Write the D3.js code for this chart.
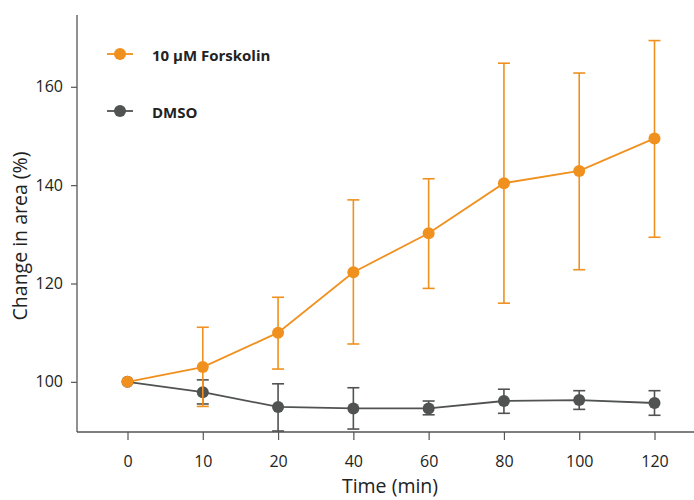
<!DOCTYPE html>
<html><head><meta charset="utf-8">
<script src="https://cdn.jsdelivr.net/npm/d3@7"></script>
<style>body{margin:0;background:#fff}svg{display:block}</style>
</head><body>
<svg id="c" width="694" height="500"></svg>
<script>
const categories = ["0","10","20","40","60","80","100","120"];
const forskolin = [100, 103.0, 110.0, 122.3, 130.2, 140.4, 142.9, 149.5];
const forskolinHi = [100, 111.1, 117.2, 137.0, 141.3, 164.8, 162.8, 169.4];
const forskolinLo = [100, 95.0, 102.6, 107.7, 119.0, 116.0, 122.8, 129.4];
const dmso = [100, 97.9, 94.9, 94.6, 94.6, 96.1, 96.3, 95.7];
const dmsoHi = [100, 100.4, 99.6, 98.8, 96.1, 98.5, 98.2, 98.2];
const dmsoLo = [100, 95.5, 90.0, 90.4, 93.3, 93.6, 94.4, 93.2];
const yTicks = [100, 120, 140, 160];
const seriesNames = ["10 µM Forskolin", "DMSO"];
const colors = ["#F0901E", "#505352"];

const svg = d3.select("#c");
const font = "'Open Sans', 'Noto Sans', sans-serif";
const axisColor = "#555";

const x = d3.scalePoint().domain(categories).range([127.5, 654.5]);
const y = d3.scaleLinear().domain([89.8, 174.6]).range([432, 15]);

// axes
const yAxis = svg.append("g").attr("transform", "translate(77,0)")
  .call(d3.axisLeft(y).tickValues(yTicks).tickSize(6).tickPadding(8).tickSizeOuter(0));
const xAxis = svg.append("g").attr("transform", "translate(0,432)")
  .call(d3.axisBottom(x).tickSize(8).tickPadding(16).tickSizeOuter(0));
[yAxis, xAxis].forEach(g => {
  g.select(".domain").remove();
  g.selectAll("line").attr("stroke", axisColor).attr("stroke-width", 1.2);
  g.selectAll("text").attr("fill", "#222").style("font-family", font).style("font-size", "16px");
});
svg.append("line").attr("x1", 77).attr("x2", 77).attr("y1", 15).attr("y2", 432)
  .attr("stroke", axisColor).attr("stroke-width", 1.3);
svg.append("line").attr("x1", 77).attr("x2", 694).attr("y1", 432).attr("y2", 432)
  .attr("stroke", axisColor).attr("stroke-width", 1.3);

// titles
svg.append("text").attr("transform", "translate(27,236) rotate(-90)")
  .attr("text-anchor", "middle").attr("fill", "#222")
  .style("font-family", font).style("font-size", "19.5px").text("Change in area (%)");
svg.append("text").attr("x", 390).attr("y", 493).attr("text-anchor", "middle").attr("fill", "#222")
  .style("font-family", font).style("font-size", "19.5px").text("Time (min)");

const series = [
  {vals: dmso, hi: dmsoHi, lo: dmsoLo, color: colors[1]},
  {vals: forskolin, hi: forskolinHi, lo: forskolinLo, color: colors[0]}
];
const line = d3.line().x((d, i) => x(categories[i])).y(d => y(d));
series.forEach(s => {
  const g = svg.append("g");
  g.append("path").datum(s.vals).attr("d", line).attr("fill", "none")
    .attr("stroke", s.color).attr("stroke-width", 1.8);
  categories.forEach((c, i) => {
    if (s.hi[i] === s.lo[i]) return;
    const cx = x(c);
    g.append("line").attr("x1", cx).attr("x2", cx).attr("y1", y(s.hi[i])).attr("y2", y(s.lo[i]))
      .attr("stroke", s.color).attr("stroke-width", 1.6);
    [s.hi[i], s.lo[i]].forEach(v => {
      g.append("line").attr("x1", cx - 6).attr("x2", cx + 6).attr("y1", y(v)).attr("y2", y(v))
        .attr("stroke", s.color).attr("stroke-width", 1.6);
    });
  });
  g.selectAll("circle").data(s.vals).join("circle")
    .attr("cx", (d, i) => x(categories[i])).attr("cy", d => y(d)).attr("r", 6)
    .attr("fill", s.color);
});

// legend
const legY = [54, 111];
seriesNames.forEach((n, i) => {
  const g = svg.append("g");
  g.append("line").attr("x1", 107).attr("x2", 133).attr("y1", legY[i]).attr("y2", legY[i])
    .attr("stroke", colors[i]).attr("stroke-width", 1.8);
  g.append("circle").attr("cx", 120).attr("cy", legY[i]).attr("r", 6).attr("fill", colors[i]);
  g.append("text").attr("x", 152).attr("y", legY[i] + 6.5).attr("fill", "#222")
    .style("font-family", font).style("font-size", "15px").style("font-weight", "bold").text(n);
});
</script>
</body></html>
